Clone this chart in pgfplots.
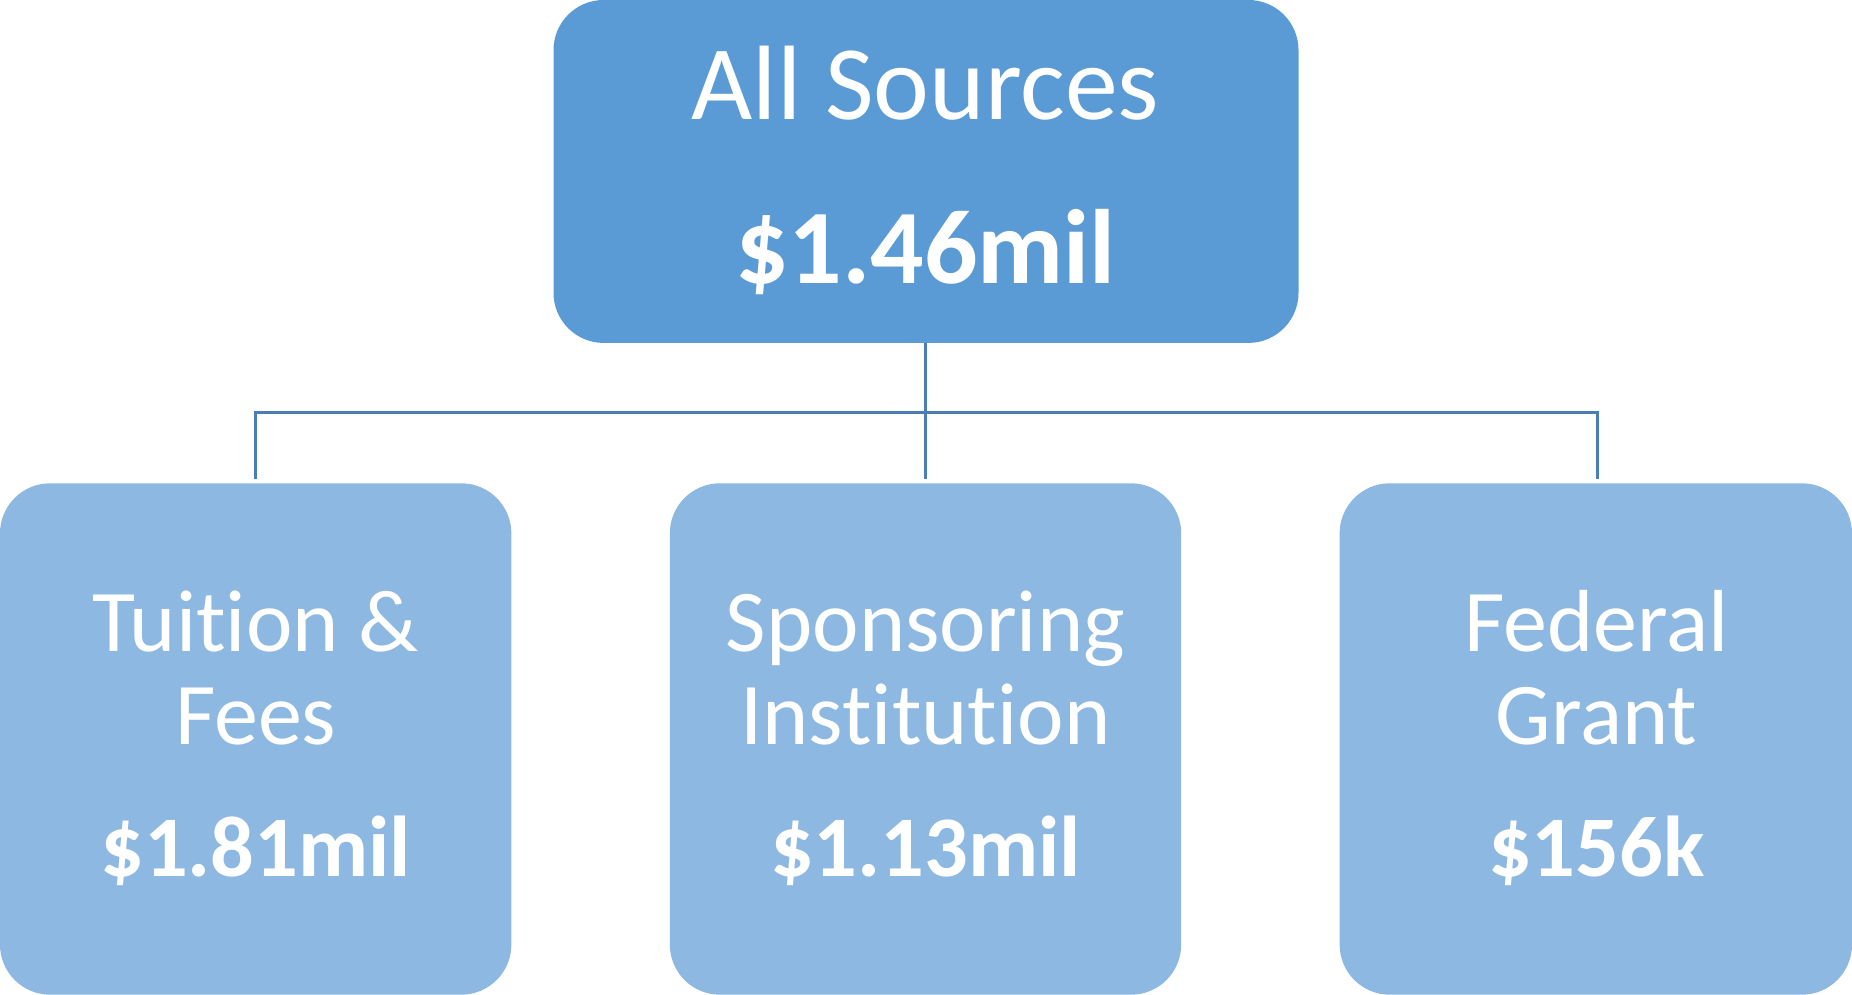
\documentclass[border=0pt]{standalone}
\usepackage{pgfplots}
\pgfplotsset{compat=1.18}
\usepackage{fontspec}
\setmainfont[Ligatures={NoCommon}]{Carlito}
\definecolor{topblue}{HTML}{5B9BD5}
\definecolor{boxblue}{HTML}{8CB8E1}
\definecolor{linkblue}{HTML}{4A7EB5}

\begin{document}
\begin{tikzpicture}
\begin{axis}[
    width=18.52cm, height=9.95cm, scale only axis,
    xmin=0, xmax=1852, ymin=0, ymax=995,
    axis lines=none, ticks=none, clip=false,
]
% connectors
\draw[linkblue, line width=0.9pt] (axis cs:927,653) -- (axis cs:927,517);
\draw[linkblue, line width=0.9pt] (axis cs:259,517) -- (axis cs:259,584) -- (axis cs:1597,584) -- (axis cs:1597,517);
% boxes
\fill[topblue, rounded corners=5mm] (axis cs:556,653) rectangle (axis cs:1299,995);
\fill[boxblue, rounded corners=5mm] (axis cs:4,3) rectangle (axis cs:514,513);
\fill[boxblue, rounded corners=5mm] (axis cs:672,3) rectangle (axis cs:1182,513);
\fill[boxblue, rounded corners=5mm] (axis cs:1340,3) rectangle (axis cs:1851,513);
% top text
\node[anchor=base, text=white, font=\fontsize{30}{36}\selectfont] at (axis cs:927,876) {All Sources};
\node[anchor=base, text=white, font=\bfseries\fontsize{30}{36}\selectfont] at (axis cs:927,712) {\$1.46mil};
% bottom text
\node[anchor=base, text=white, font=\fontsize{25}{30}\selectfont] at (axis cs:259,345) {Tuition \&};
\node[anchor=base, text=white, font=\fontsize{25}{30}\selectfont] at (axis cs:259,253) {Fees};
\node[anchor=base, text=white, font=\bfseries\fontsize{24.5}{29}\selectfont] at (axis cs:259,121) {\$1.81mil};
\node[anchor=base, text=white, font=\fontsize{25}{30}\selectfont] at (axis cs:927,345) {Sponsoring};
\node[anchor=base, text=white, font=\fontsize{25}{30}\selectfont] at (axis cs:927,253) {Institution};
\node[anchor=base, text=white, font=\bfseries\fontsize{24.5}{29}\selectfont] at (axis cs:927,121) {\$1.13mil};
\node[anchor=base, text=white, font=\fontsize{25}{30}\selectfont] at (axis cs:1596,345) {Federal};
\node[anchor=base, text=white, font=\fontsize{25}{30}\selectfont] at (axis cs:1596,253) {Grant};
\node[anchor=base, text=white, font=\bfseries\fontsize{24.5}{29}\selectfont] at (axis cs:1596,121) {\$156k};
\end{axis}
\end{tikzpicture}
\end{document}
